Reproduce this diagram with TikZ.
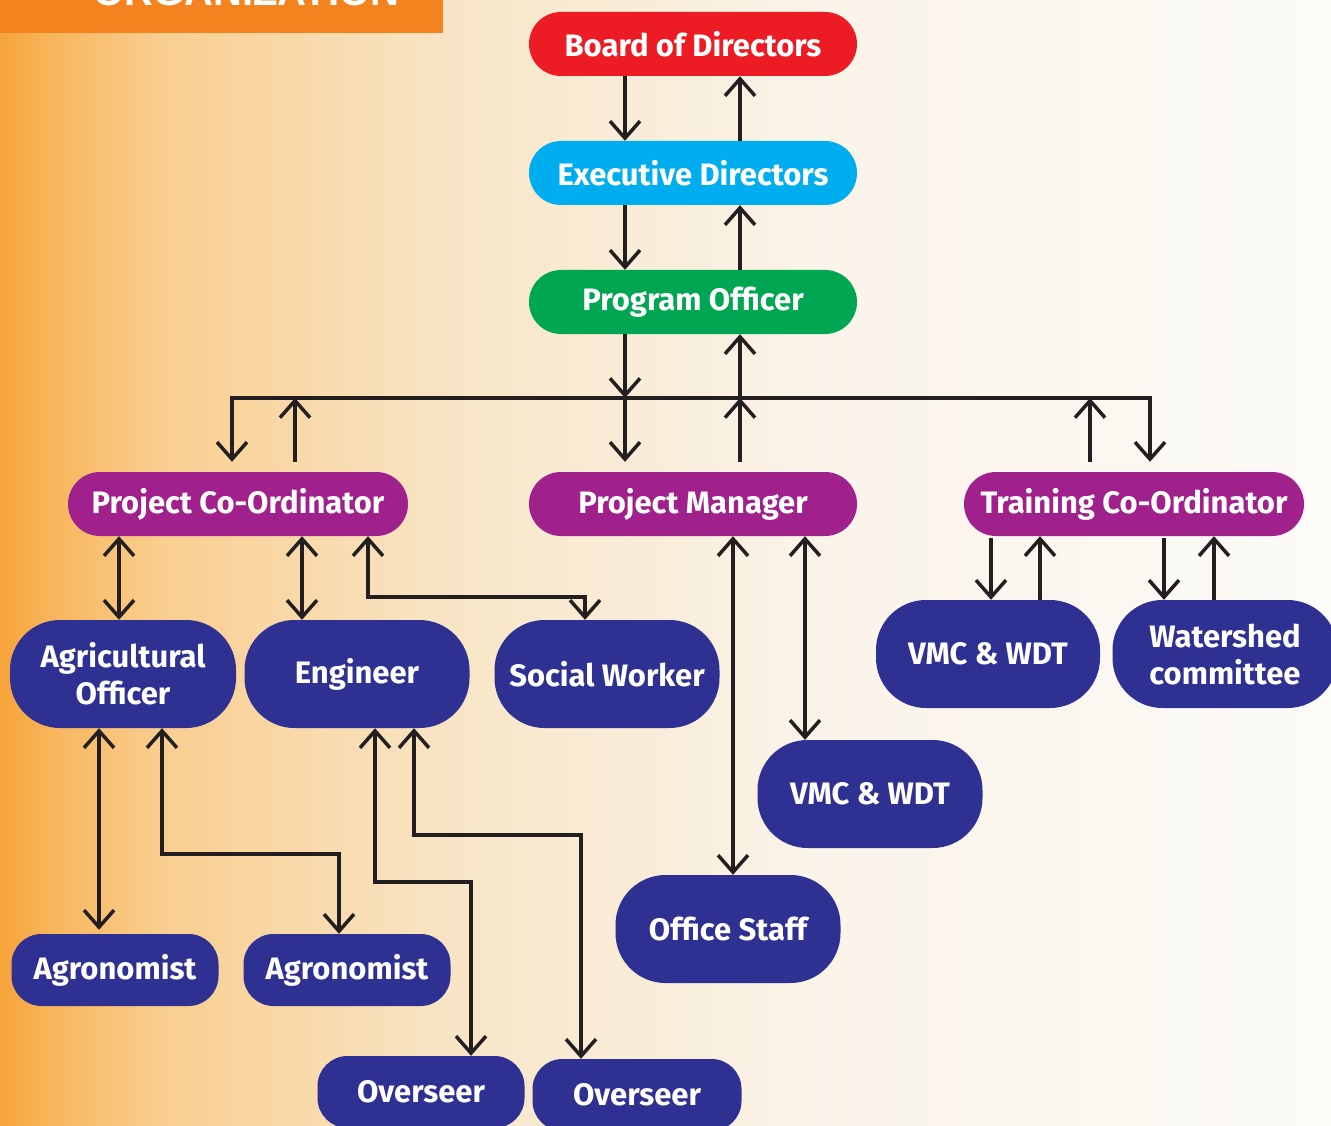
\documentclass[tikz,border=0pt]{standalone}
\usepackage{xcolor}
\usepackage{fontspec}
\setmainfont{Fira Sans}
\newfontfamily\titlefont{Liberation Sans}
\usepackage{tikz}
\usetikzlibrary{arrows.meta}
\definecolor{boardred}{HTML}{ED1C24}
\definecolor{execblue}{HTML}{00AEEF}
\definecolor{progreen}{HTML}{00A651}
\definecolor{projpurple}{HTML}{A0218C}
\definecolor{staffblue}{HTML}{2E3192}
\definecolor{titleorange}{HTML}{F4831F}
\definecolor{linkblack}{HTML}{231F20}
\definecolor{bgA}{HTML}{F6A33A}
\definecolor{bgB}{HTML}{F8B65C}
\definecolor{bgC}{HTML}{F9CE90}
\definecolor{bgD}{HTML}{F8E5C6}
\definecolor{bgE}{HTML}{FAF3E8}
\definecolor{bgF}{HTML}{FCFBF8}
% only 25bp..75bp of a shading is mapped onto the path
\pgfdeclarehorizontalshading{bgfade}{100bp}{color(0bp)=(bgA); color(25bp)=(bgA); color(27bp)=(bgB); color(31bp)=(bgC); color(42bp)=(bgD); color(55bp)=(bgE); color(75bp)=(bgF); color(100bp)=(bgF)}

\begin{document}
\begin{tikzpicture}[
    x=1pt, y=-1pt,
    orgbox/.style={rectangle, rounded corners=32pt, minimum width=328pt, minimum height=64pt, inner sep=0pt, align=center, text=white, font=\bfseries\fontsize{31}{37}\selectfont},
    staffbox/.style={orgbox, fill=staffblue, rounded corners=50pt, minimum width=225pt, minimum height=108pt},
    fieldbox/.style={orgbox, fill=staffblue, rounded corners=30pt, minimum width=207pt, minimum height=72pt},
    link/.style={draw=linkblack, line width=3.5pt},
    arr/.style={link, -{Straight Barb[length=17pt,width=30pt]}},
    arrboth/.style={link, {Straight Barb[length=17pt,width=30pt]}-{Straight Barb[length=17pt,width=30pt]}}
]
    \useasboundingbox (0,0) rectangle (1331,1126);
    \clip (0,0) rectangle (1331,1126);
    \shade[shading=bgfade] (0,0) rectangle (1331,1126);

    \fill[titleorange] (0,-10) rectangle (443,33);
    \node[anchor=base west, inner sep=0pt, text=white, font=\titlefont\bfseries\fontsize{40}{40}\selectfont] (title) at (93,6) {ORGANIZATION};

    \node[orgbox, fill=boardred] (board) at (693,44) {Board of Directors};
    \node[orgbox, fill=execblue] (exec) at (693,173) {Executive Directors};
    \node[orgbox, fill=progreen] (prog) at (693,302) {Program Officer};
    \node[orgbox, fill=projpurple, minimum width=340pt] (pco) at (238,504) {Project Co-Ordinator};
    \node[orgbox, fill=projpurple] (pm) at (693,504) {Project Manager};
    \node[orgbox, fill=projpurple, minimum width=340pt] (tco) at (1134,504) {Training Co-Ordinator};

    \node[staffbox, minimum width=226pt] (agri) at (123,674) {Agricultural\\Officer};
    \node[staffbox] (eng) at (357,674) {Engineer};
    \node[staffbox] (social) at (607,674) {Social Worker};
    \node[staffbox, minimum width=224pt] (vmcright) at (988,654) {VMC \& WDT};
    \node[staffbox] (water) at (1225,654) {Watershed\\committee};
    \node[staffbox] (vmcmid) at (870,794) {VMC \& WDT};
    \node[staffbox] (office) at (728,929) {Office Staff};

    \node[fieldbox] (agroA) at (115,970) {Agronomist};
    \node[fieldbox] (agroB) at (347,970) {Agronomist};
    \node[fieldbox] (overA) at (421,1092) {Overseer};
    \node[fieldbox, minimum width=209pt] (overB) at (637,1095) {Overseer};

    \coordinate (bus) at (693,398);

    % top of the chart
    \draw[arr] ([xshift=-68pt]board.south) -- ([xshift=-68pt]exec.north);
    \draw[arr] ([xshift=47pt]exec.north) -- ([xshift=47pt]board.south);
    \draw[arr] ([xshift=-68pt]exec.south) -- ([xshift=-68pt]prog.north);
    \draw[arr] ([xshift=47pt]prog.north) -- ([xshift=47pt]exec.south);
    \draw[arr] ([xshift=-68pt]prog.south) -- ([xshift=-68pt]bus);
    \draw[arr] ([xshift=47pt]bus) -- ([xshift=47pt]prog.south);

    % bus to the three heads
    \draw[arr] (bus) -| ([xshift=-6pt,yshift=10pt]pco.north);
    \draw[arr] (bus) -| ([xshift=16pt,yshift=10pt]tco.north);
    \draw[arr] ([xshift=57pt,yshift=10pt]pco.north) -- ([xshift=-398pt]bus);
    \draw[arr] ([xshift=-68pt]bus) -- ([xshift=-68pt,yshift=10pt]pm.north);
    \draw[arr] ([xshift=47pt,yshift=10pt]pm.north) -- ([xshift=47pt]bus);
    \draw[arr] ([xshift=-44pt,yshift=10pt]tco.north) -- ([xshift=397pt]bus);

    % project co-ordinator
    \draw[arrboth] ([xshift=-119pt]pco.south) -- ([xshift=-4pt]agri.north);
    \draw[arrboth] ([xshift=64pt]pco.south) -- ([xshift=-55pt]eng.north);
    \draw[arrboth] ([xshift=130pt]pco.south) |- ([xshift=-22pt,yshift=23pt]social.north) -- ([xshift=-22pt]social.north);

    % project manager
    \draw[arrboth] ([xshift=40pt]pm.south) -- ([xshift=5pt]office.north);
    \draw[arrboth] ([xshift=112pt]pm.south) -- ([xshift=-65pt]vmcmid.north);

    % training co-ordinator
    \draw[arr] ([xshift=-143pt,yshift=-2pt]tco.south) -- ([xshift=3pt]vmcright.north);
    \draw[arr] ([xshift=52pt]vmcright.north) -- ([xshift=-94pt]tco.south);
    \draw[arr] ([xshift=30pt,yshift=-2pt]tco.south) -- ([xshift=-61pt]water.north);
    \draw[arr] ([xshift=-11pt]water.north) -- ([xshift=80pt]tco.south);

    % agricultural officer and engineer
    \draw[arrboth] ([xshift=-24pt]agri.south) -- ([xshift=-16pt,yshift=4pt]agroA.north);
    \draw[arrboth] ([xshift=39pt]agri.south) |- ([xshift=-8pt,yshift=80pt]agroB.north) -- ([xshift=-8pt]agroB.north);
    \draw[arrboth] ([xshift=18pt]eng.south) |- ([xshift=50pt,yshift=174pt]overA.north) -- ([xshift=50pt]overA.north);
    \draw[arrboth] ([xshift=57pt]eng.south) |- ([xshift=-56pt,yshift=224pt]overB.north) -- ([xshift=-56pt]overB.north);
\end{tikzpicture}
\end{document}
